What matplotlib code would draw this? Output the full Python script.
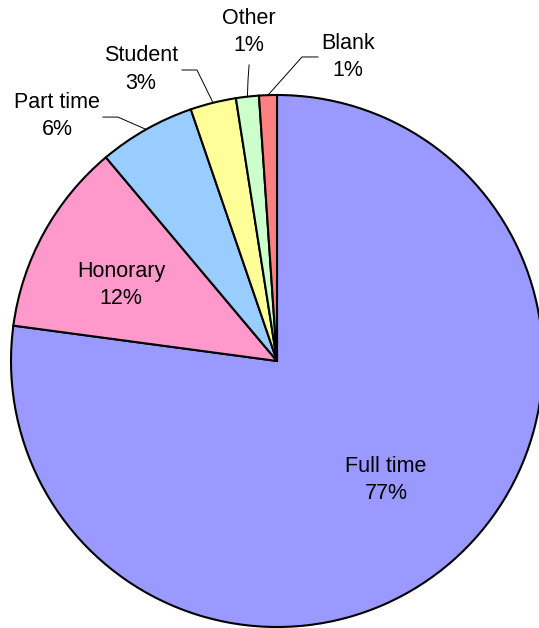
import numpy as np
import matplotlib
matplotlib.use('Agg')
import matplotlib.pyplot as plt

labels = ['Full time', 'Honorary', 'Part time', 'Student', 'Other', 'Blank']
values = [77.1, 11.75, 5.87, 2.78, 1.39, 1.08]
pct_text = ['77%', '12%', '6%', '3%', '1%', '1%']
colors = ['#9999FF', '#FF99CC', '#99CCFF', '#FFFF99', '#CCFFCC', '#FF8080']

# label placement (data units, pie radius = 1)
text_pos = [(0.41, -0.447), (-0.586, 0.286), (-0.827, 0.921),
            (-0.511, 1.096), (-0.105, 1.237), (0.267, 1.143)]
# leader lines: start near text, knee, then to wedge edge (None = inside label)
leaders = [None, None,
           [(-0.654, 0.917), (-0.598, 0.917)],
           [(-0.357, 1.094), (-0.301, 1.094)],
           [(-0.105, 1.113), (-0.109, 1.056)],
           [(0.154, 1.143), (0.094, 1.143)]]

plt.rcParams['font.family'] = ['Liberation Sans', 'DejaVu Sans']

fig = plt.figure(figsize=(5.39, 6.28), dpi=100)
ax = fig.add_axes([0, 0, 1, 1])

wedges, _ = ax.pie(values, colors=colors, startangle=90, counterclock=False,
                   wedgeprops=dict(edgecolor='black', linewidth=1.5))

for i, w in enumerate(wedges):
    mid = np.deg2rad((w.theta1 + w.theta2) / 2)
    tx, ty = text_pos[i]
    ax.text(tx, ty, labels[i] + '\n' + pct_text[i], ha='center', va='center',
            fontsize=15.5, linespacing=1.38)
    if leaders[i] is not None:
        pts = leaders[i] + [(np.cos(mid), np.sin(mid))]
        xs = [p[0] for p in pts]
        ys = [p[1] for p in pts]
        ax.plot(xs, ys, color='black', lw=0.7)

ax.set_xlim(-277 / 266, 262 / 266)
ax.set_ylim(-267 / 266, 361 / 266)
ax.set_aspect('auto')
ax.axis('off')

fig.savefig('out.png', dpi=100)
